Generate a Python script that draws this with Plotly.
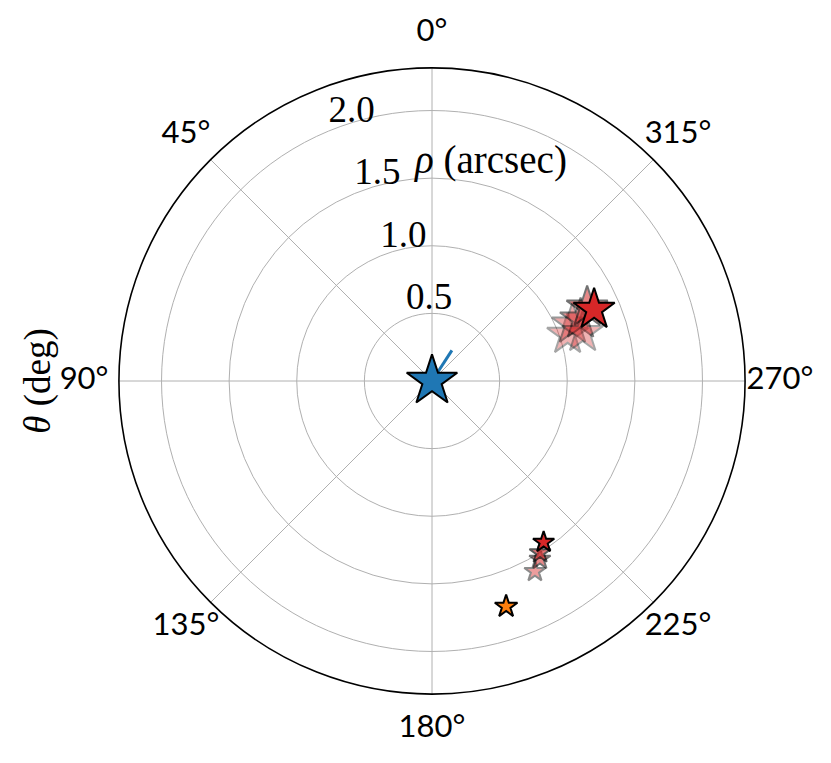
import plotly.graph_objects as go

# ---- data ----
primary_r = [0.0]
primary_theta = [0.0]

track_r = [0.0, 0.27]
track_theta = [327.0, 327.0]

upper_r = [1.06, 1.12, 1.19, 1.17, 1.27, 1.31]
upper_theta = [288.9, 292.0, 292.6, 287.8, 295.4, 293.8]
upper_alpha = [0.35, 0.4, 0.5, 0.35, 0.55, 1.0]

lower_r = [1.60, 1.54, 1.50, 1.45]
lower_theta = [208.4, 211.2, 212.2, 214.7]
lower_alpha = [0.45, 0.55, 0.65, 1.0]

orange_r = [1.755]
orange_theta = [198.2]

theta_ticks = [0, 45, 90, 135, 180, 225, 270, 315]
theta_tick_labels = ["0°", "45°", "90°", "135°", "180°", "225°", "270°", "315°"]
r_ticks = [0.5, 1.0, 1.5, 2.0]
r_tick_labels = ["0.5", "1.0", "1.5", "2.0"]
r_label_theta = 22.5
r_max = 2.315          # data polar (outer circle)
r_max_labels = 2.588   # invisible outer polar holding the angle labels
theta_label_r = 2.573  # radius at which the angle labels are centred

BLUE = "#1f77b4"
RED = "#d62728"
ORANGE = "#ff7f0e"
SANS = "Lato, Roboto, sans-serif"
SERIF = "Liberation Serif, DejaVu Serif, serif"

fig = go.Figure()

fig.add_trace(go.Scatterpolar(
    r=track_r, theta=track_theta, mode="lines",
    line=dict(color=BLUE, width=3), showlegend=False, hoverinfo="skip"))

fig.add_trace(go.Scatterpolar(
    r=upper_r, theta=upper_theta, mode="markers",
    marker=dict(symbol="star", size=31, color=RED, opacity=upper_alpha,
                line=dict(color="black", width=2)),
    showlegend=False))

fig.add_trace(go.Scatterpolar(
    r=lower_r, theta=lower_theta, mode="markers",
    marker=dict(symbol="star", size=16, color=RED, opacity=lower_alpha,
                line=dict(color="black", width=2)),
    showlegend=False))

fig.add_trace(go.Scatterpolar(
    r=orange_r, theta=orange_theta, mode="markers",
    marker=dict(symbol="star", size=17, color=ORANGE,
                line=dict(color="black", width=2)),
    showlegend=False))

fig.add_trace(go.Scatterpolar(
    r=primary_r, theta=primary_theta, mode="markers",
    marker=dict(symbol="star", size=38, color=BLUE,
                line=dict(color="black", width=2)),
    showlegend=False))

# radial tick labels (matplotlib-style at 22.5 deg)
fig.add_trace(go.Scatterpolar(
    r=r_ticks, theta=[r_label_theta] * len(r_ticks), mode="text",
    text=r_tick_labels, textposition="top right",
    textfont=dict(family=SERIF, size=37, color="black"),
    showlegend=False, hoverinfo="skip", cliponaxis=False))

# angular tick labels, centred just outside the circle (on a hidden outer polar)
fig.add_trace(go.Scatterpolar(
    r=[theta_label_r] * len(theta_ticks), theta=theta_ticks, mode="text",
    text=theta_tick_labels, textposition="middle center",
    textfont=dict(family=SANS, size=31, color="black"),
    showlegend=False, hoverinfo="skip", cliponaxis=False, subplot="polar2"))

inner = (r_max_labels - r_max) / (2 * r_max_labels)

hidden_axis = dict(showline=False, showgrid=False, showticklabels=False, ticks="")

# page body has an 8px default margin: plot area shifted accordingly
fig.update_layout(
    width=831, height=763,
    margin=dict(l=74, r=57, t=23, b=40, autoexpand=False),
    paper_bgcolor="white",
    polar=dict(
        bgcolor="white",
        domain=dict(x=[inner, 1 - inner], y=[inner, 1 - inner]),
        angularaxis=dict(
            rotation=90, direction="counterclockwise",
            tickmode="array", tickvals=theta_ticks, showticklabels=False,
            ticks="", showline=True, linecolor="black", linewidth=1.6,
            gridcolor="#b0b0b0", gridwidth=1.4,
        ),
        radialaxis=dict(
            range=[0, r_max], tickvals=r_ticks, showticklabels=False,
            ticks="", showline=False, gridcolor="#b0b0b0", gridwidth=1.4,
        ),
    ),
    polar2=dict(
        bgcolor="rgba(0,0,0,0)",
        domain=dict(x=[0, 1], y=[0, 1]),
        angularaxis=dict(rotation=90, direction="counterclockwise", **hidden_axis),
        radialaxis=dict(range=[0, r_max_labels], **hidden_axis),
    ),
    annotations=[
        dict(text="<i>ρ</i> (arcsec)", xref="paper", yref="paper",
             x=0.583, y=0.8164, xanchor="center", yanchor="middle",
             showarrow=False,
             font=dict(family=SERIF, size=39, color="black")),
        dict(text="<i>θ</i> (deg)", xref="paper", yref="paper",
             x=-0.064, y=0.5007, xanchor="center", yanchor="middle",
             showarrow=False, textangle=-90,
             font=dict(family=SERIF, size=37, color="black")),
    ],
)

fig.write_html("out.html")
